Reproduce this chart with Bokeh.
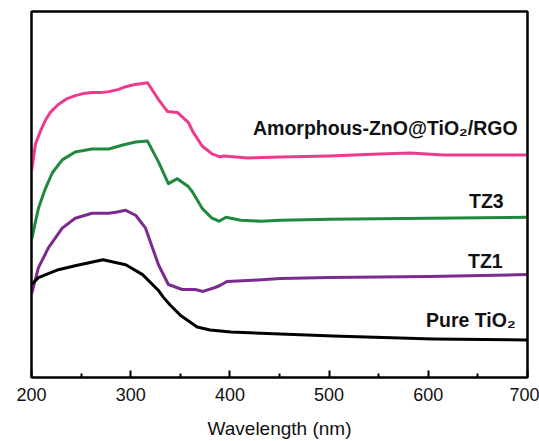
from bokeh.plotting import figure
from bokeh.models import Range1d, FixedTicker, ColumnDataSource, LinearAxis
from bokeh.core.properties import value
from bokeh.embed import file_html
from bokeh.resources import INLINE

# Wavelength (nm) and absorbance (a.u., offset curves)
rgo_wl = [200, 204, 209, 214, 219, 227, 236, 244, 252, 261, 270, 278, 287, 295, 303, 317,
          328, 337, 347, 358, 363, 372, 382, 390, 394, 418, 451, 500, 550, 582, 615, 650, 700]
rgo_abs = [2.08, 2.36, 2.49, 2.60, 2.68, 2.76, 2.82, 2.85, 2.87, 2.88, 2.88, 2.89, 2.91, 2.94, 2.96, 2.98,
           2.81, 2.69, 2.68, 2.58, 2.48, 2.34, 2.26, 2.23, 2.24, 2.22, 2.23, 2.24, 2.26, 2.27, 2.25, 2.25, 2.25]

tz3_wl = [200, 207, 214, 221, 231, 244, 261, 278, 292, 305, 317, 328, 338, 347, 358, 362,
          372, 382, 389, 396, 411, 431, 451, 500, 600, 700]
tz3_abs = [1.39, 1.71, 1.91, 2.07, 2.20, 2.28, 2.31, 2.31, 2.35, 2.38, 2.39, 2.18, 1.96, 2.01, 1.93, 1.88,
           1.71, 1.61, 1.58, 1.62, 1.59, 1.58, 1.59, 1.60, 1.61, 1.62]

tz1_wl = [200, 207, 217, 231, 244, 261, 278, 285, 295, 305, 315, 322, 328, 338, 352, 365,
          373, 385, 390, 397, 418, 451, 500, 600, 700]
tz1_abs = [0.84, 1.11, 1.31, 1.51, 1.61, 1.66, 1.66, 1.67, 1.69, 1.64, 1.51, 1.31, 1.14, 0.94, 0.89, 0.89,
           0.87, 0.91, 0.93, 0.97, 0.98, 1.00, 1.01, 1.02, 1.04]

tio2_wl = [200, 207, 227, 244, 272, 295, 312, 328, 333, 340, 350, 367, 380, 401, 451, 504, 605, 700]
tio2_abs = [0.94, 1.01, 1.09, 1.13, 1.19, 1.14, 1.04, 0.88, 0.81, 0.73, 0.63, 0.51, 0.48, 0.46, 0.44, 0.42, 0.39, 0.38]

x_ticks = [200, 300, 400, 500, 600, 700]
x_minor = [250, 350, 450, 550, 650]

label_text = ["Amorphous-ZnO@TiO\u2082/RGO", "TZ3", "TZ1", "Pure TiO\u2082"]
label_x = [690, 676, 675, 688]
label_y = [2.52, 1.78, 1.18, 0.58]

colors = ["#EE3A8C", "#1F8A3F", "#7D2A90", "#000000"]

p = figure(width=539, height=441, output_backend="svg", toolbar_location=None,
           x_range=Range1d(200, 700), y_range=Range1d(0, 3.70),
           min_border_left=31, min_border_right=12, min_border_top=11, min_border_bottom=60)

series = [(rgo_wl, rgo_abs), (tz3_wl, tz3_abs), (tz1_wl, tz1_abs), (tio2_wl, tio2_abs)]
for (wl, ab), c in zip(series, colors):
    p.line(wl, ab, line_color=c, line_width=3, line_join="round")

src = ColumnDataSource(dict(x=label_x, y=label_y, t=label_text))
p.text(x="x", y="y", text="t", source=src, text_font=value("Liberation Sans"),
       text_font_style="bold", text_font_size="19.5px", text_align="right",
       text_baseline="alphabetic", text_color="#111111")

p.xgrid.visible = False
p.ygrid.visible = False

# left axis: frame line only (no ticks, no labels)
yax = p.yaxis[0]
yax.ticker = FixedTicker(ticks=[], minor_ticks=[])
yax.major_tick_in = 0
yax.major_tick_out = 0
yax.minor_tick_in = 0
yax.minor_tick_out = 0
yax.major_label_standoff = 0
yax.axis_line_width = 2
yax.axis_line_color = "black"

ax = p.xaxis[0]
ax.ticker = FixedTicker(ticks=x_ticks, minor_ticks=x_minor)
ax.axis_label = "Wavelength (nm)"
ax.axis_label_text_font = "Liberation Sans"
ax.axis_label_text_font_style = "normal"
ax.axis_label_text_font_size = "19px"
ax.axis_label_text_color = "#111111"
ax.axis_label_standoff = 14
ax.major_label_text_font = "Liberation Sans"
ax.major_label_text_font_size = "18px"
ax.major_label_text_color = "#111111"
ax.major_label_standoff = 10
ax.major_tick_in = 7
ax.major_tick_out = 0
ax.minor_tick_in = 4
ax.minor_tick_out = 0
ax.axis_line_width = 2
ax.major_tick_line_width = 2
ax.minor_tick_line_width = 2
ax.axis_line_color = "black"

for side in ("above", "right"):
    fa = LinearAxis(ticker=FixedTicker(ticks=[], minor_ticks=[]),
                    major_tick_in=0, major_tick_out=0, minor_tick_in=0, minor_tick_out=0,
                    major_label_standoff=0, axis_line_width=2, axis_line_color="black")
    p.add_layout(fa, side)

p.outline_line_color = "black"
p.outline_line_width = 2
p.outline_line_alpha = 1.0

open("out.html", "w").write(file_html(p, INLINE))
